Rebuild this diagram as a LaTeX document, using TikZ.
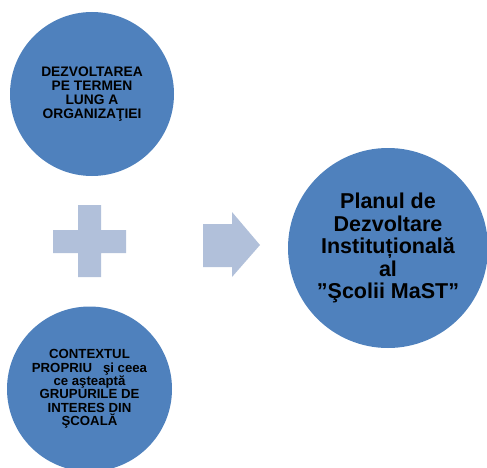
\documentclass[tikz,border=0pt]{standalone}
\usepackage{fontspec}
\setmainfont{Liberation Sans}
\begin{document}
\begin{tikzpicture}[x=1pt,y=-1pt,
  bub/.style={circle,fill=bubblue,inner sep=0pt,align=center,font=\bfseries},
  sign/.style={fill=signblue}]
\definecolor{bubblue}{HTML}{4F81BD}
\definecolor{signblue}{HTML}{B1C0DA}
\useasboundingbox (0,0) rectangle (487,468);
\clip (0,0) rectangle (487,468);
\node[bub,minimum size=164pt,font=\bfseries\fontsize{13.8}{14}\selectfont] (top) at (92,94)
  {DEZVOLTAREA\\PE TERMEN\\LUNG A\\ORGANIZAŢIEI};
\node[bub,minimum size=165pt,font=\bfseries\fontsize{13.2}{13.4}\selectfont] (bot) at (89.5,389)
  {CONTEXTUL\\PROPRIU\ \ \ şi ceea\\ce aşteaptă\\GRUPURILE DE\\INTERES DIN\\ŞCOALĂ};
\node[bub,minimum size=200pt,font=\bfseries\fontsize{21.5}{22.5}\selectfont] (res) at (388,248)
  {Planul de\\Dezvoltare\\Instituțională\\al\\”Şcolii MaST”};
% plus sign
\fill[sign] (78,205) -- (101,205) -- (101,230) -- (126,230) -- (126,253) -- (101,253)
  -- (101,277) -- (78,277) -- (78,253) -- (53,253) -- (53,230) -- (78,230) -- cycle;
% block arrow
\fill[sign] (203,224) -- (232,224) -- (232,212) -- (260,245) -- (232,277) -- (232,267)
  -- (203,267) -- cycle;
\end{tikzpicture}
\end{document}
